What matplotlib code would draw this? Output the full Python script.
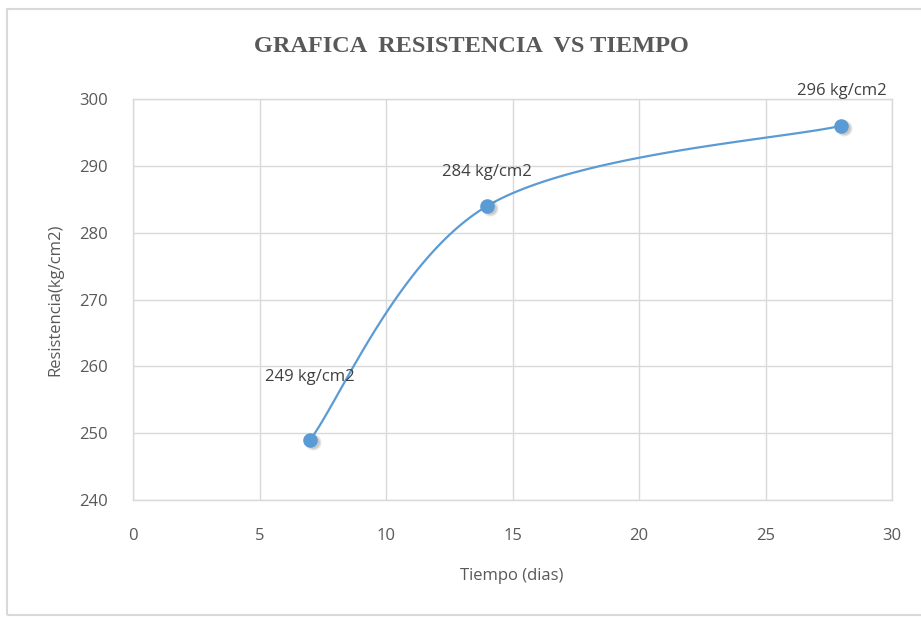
import numpy as np
import matplotlib
matplotlib.use("Agg")
import matplotlib.pyplot as plt
from matplotlib.patches import Rectangle

# data
dias = [7, 14, 28]
resistencia = [249, 284, 296]
etiquetas = ["249 kg/cm2", "284 kg/cm2", "296 kg/cm2"]
xticks = [0, 5, 10, 15, 20, 25, 30]
yticks = [240, 250, 260, 270, 280, 290, 300]
titulo = "GRAFICA  RESISTENCIA  VS TIEMPO"
xlabel = "Tiempo (dias)"
ylabel = "Resistencia(kg/cm2)"

W, H = 921, 617
fig = plt.figure(figsize=(W/100, H/100), dpi=100)
fig.patch.set_facecolor("white")
ax = fig.add_axes([133/W, 1-500/H, (892-133)/W, (500-99)/H])

ax.set_xlim(0, 30)
ax.set_ylim(240, 300)
ax.set_xticks(xticks)
ax.set_yticks(yticks)
ax.grid(True, color="#d9d9d9", linewidth=1.0)
ax.set_axisbelow(True)
for s in ax.spines.values():
    s.set_color("#d9d9d9")
    s.set_linewidth(1.0)
ax.tick_params(length=0, colors="#595959", labelsize=12)
ax.tick_params(axis="x", pad=20)
ax.tick_params(axis="y", pad=18)
for lab in ax.get_xticklabels() + ax.get_yticklabels():
    lab.set_fontfamily("Open Sans")

# Excel-like smoothed line (Bezier with tension 1/6 in screen coords)
def to_ax(x, y):
    return (np.asarray(x, float) - 0) / 30.0, (np.asarray(y, float) - 240) / 60.0

px, py = to_ax(dias, resistencia)
P = np.column_stack([px * (892-133), py * (500-99)])
curve = []
n = len(P)
for i in range(n - 1):
    p0 = P[i - 1] if i > 0 else P[i]
    p1 = P[i]
    p2 = P[i + 1]
    p3 = P[i + 2] if i + 2 < n else P[i + 1]
    c1 = p1 + (p2 - p0) / 6.0
    c2 = p2 - (p3 - p1) / 6.0
    t = np.linspace(0, 1, 60)[:, None]
    seg = (1-t)**3 * p1 + 3*(1-t)**2*t * c1 + 3*(1-t)*t**2 * c2 + t**3 * p2
    curve.append(seg)
curve = np.vstack(curve)
cx = curve[:, 0] / (892-133) * 30.0
cy = curve[:, 1] / (500-99) * 60.0 + 240
ax.plot(cx, cy, color="#5b9bd5", linewidth=1.6, zorder=3, solid_capstyle="round")

# shadow + markers
for k, a in [(1.0, 0.10), (0.8, 0.12)]:
    ax.plot(np.array(dias) + 0.1, np.array(resistencia) - 0.35, "o", color="#000000", alpha=a,
            markersize=11.5 * k, markeredgewidth=0, zorder=3)
ax.plot(dias, resistencia, "o", color="#5b9bd5", markersize=10.5, markeredgewidth=0, zorder=4)

offsets = [(0, 8.2), (0, 3.9), (0, 4.0)]
for x, y, t, (dx, dy) in zip(dias, resistencia, etiquetas, offsets):
    ax.text(x + dx, y + dy, t, ha="center", va="bottom", fontsize=12,
            color="#404040", family="Open Sans")

fig.text(471/W, 1-47/H, titulo, ha="center", va="center", fontsize=17.5,
         fontweight="bold", family="Liberation Serif", color="#595959")
fig.text(512/W, 1-576/H, xlabel, ha="center", va="center", fontsize=12,
         color="#595959", family="Open Sans")
fig.text(55/W, 1-300/H, ylabel, ha="center", va="center", fontsize=12,
         color="#595959", family="Open Sans", rotation=90)

# outer chart border
fig.patches.append(Rectangle((7/W, 1-615/H), 1.0, (615-9)/H, transform=fig.transFigure,
                             fill=False, edgecolor="#d9d9d9", linewidth=1.5))

fig.savefig("out.png", dpi=100)
